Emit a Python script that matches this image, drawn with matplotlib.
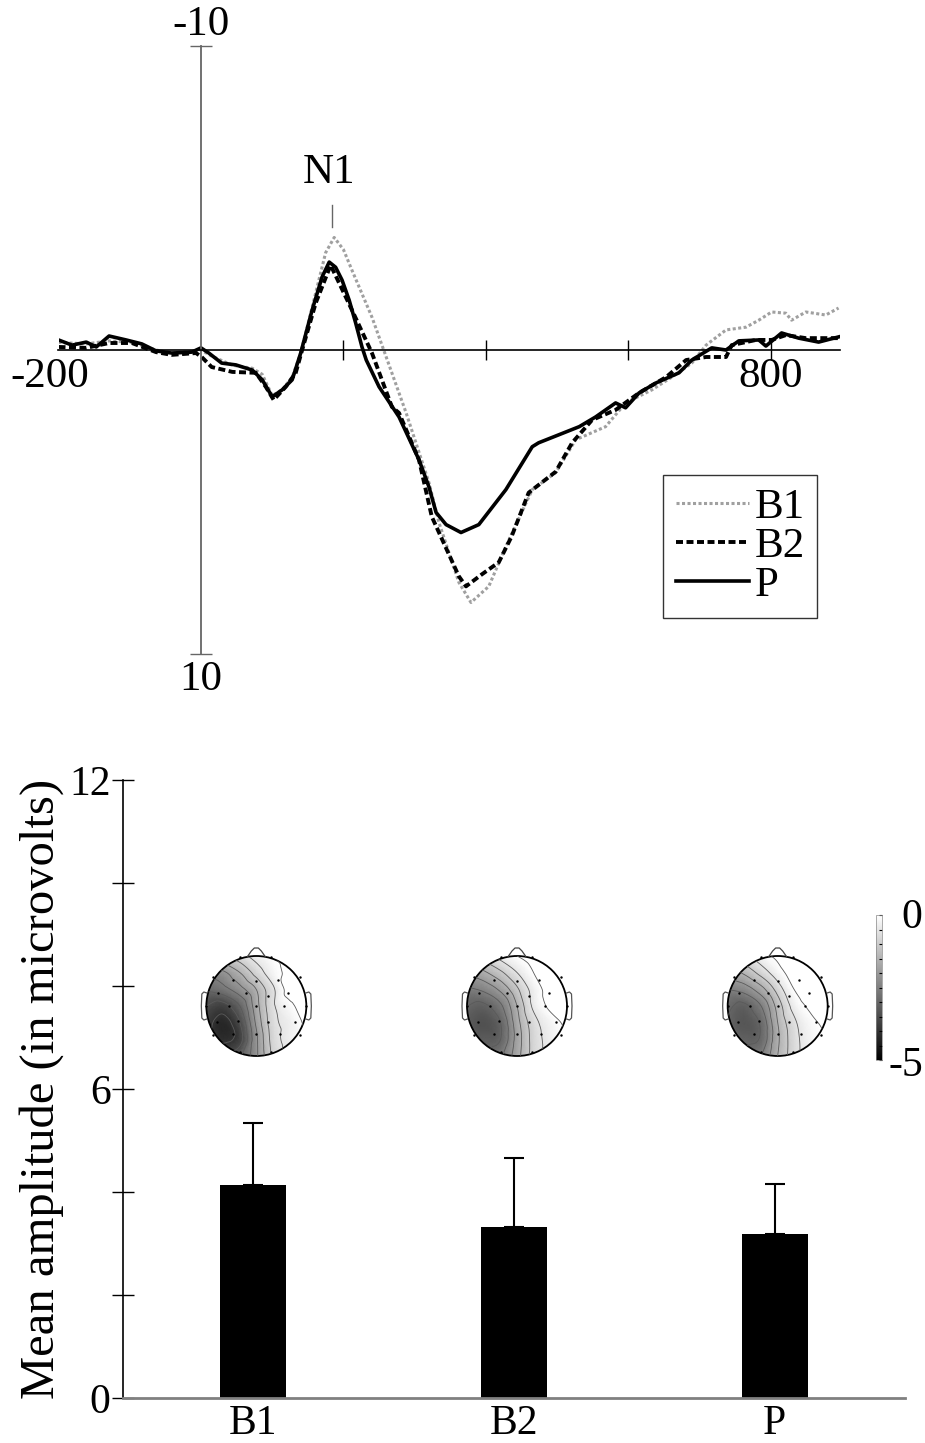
import numpy as np
import matplotlib
matplotlib.use('Agg')
import matplotlib.pyplot as plt
import matplotlib.tri as mtri
from matplotlib.patches import Circle
from matplotlib.cm import ScalarMappable
from matplotlib.colors import Normalize

plt.rcParams['font.family'] = ['Liberation Serif', 'DejaVu Serif']

# ERP WAVEFORMS - time (ms) and amplitude (microvolts, negative plotted up)
t_b1 = [-200, -161, -129, -97, -63, -41, -13, 0, 15, 44, 72, 86, 100, 114, 128, 140,
        156, 175, 187, 200, 212, 240, 260, 288, 320, 334, 362, 379, 404, 428, 465, 498,
        526, 568, 596, 633, 661, 689, 709, 737, 765, 783, 801, 821, 829, 849, 877, 895]
v_b1 = [-0.25, -0.2, -0.3, -0.25, 0.0, 0.1, 0.05, 0.0, 0.2, 0.5, 0.6, 0.8, 1.5, 1.3, 0.9, 0.1,
        -1.4, -3.2, -3.7, -3.3, -2.62, -1.08, 0.23, 2.07, 4.36, 5.67, 7.64, 8.3, 7.77, 6.46, 4.59, 4.03,
        2.95, 2.52, 1.74, 1.31, 0.89, 0.43, -0.16, -0.66, -0.75, -0.98, -1.25, -1.21, -0.98, -1.25, -1.15, -1.38]

t_b2 = [-200, -161, -129, -97, -63, -41, -7, 1, 15, 44, 77, 91, 102, 119, 133, 142,
        161, 182, 212, 240, 268, 278, 306, 324, 362, 372, 394, 418, 436, 460, 498, 521,
        549, 582, 615, 653, 681, 709, 737, 745, 779, 801, 821, 849, 895]
v_b2 = [-0.1, -0.07, -0.23, -0.23, 0.07, 0.16, 0.1, 0.23, 0.56, 0.72, 0.75, 1.21, 1.64, 1.21, 0.75, 0.0,
        -1.54, -2.79, -1.31, 0.1, 1.87, 2.07, 3.61, 5.48, 7.44, 7.77, 7.38, 6.98, 6.13, 4.69, 4.0, 3.05,
        2.3, 1.97, 1.41, 0.89, 0.33, 0.23, 0.23, -0.16, -0.33, -0.33, -0.49, -0.39, -0.39]

t_p = [-200, -181, -161, -147, -129, -105, -83, -63, -41, -13, 0, 11, 29, 49, 72, 86,
       100, 114, 128, 140, 156, 170, 180, 189, 198, 208, 217, 226, 232, 250, 278, 306,
       320, 330, 344, 365, 390, 428, 465, 474, 502, 531, 554, 582, 596, 615, 639, 671,
       689, 717, 737, 755, 783, 793, 815, 839, 867, 895]
v_p = [-0.33, -0.16, -0.26, -0.1, -0.46, -0.33, -0.2, 0.03, 0.1, 0.07, -0.07, 0.1, 0.43, 0.49, 0.66, 0.98,
       1.54, 1.31, 0.98, 0.1, -1.31, -2.4, -2.89, -2.72, -2.3, -1.64, -0.9, -0.1, 0.33, 1.21, 2.2, 3.61,
       4.5, 5.34, 5.74, 6.0, 5.74, 4.59, 3.18, 3.05, 2.79, 2.52, 2.2, 1.74, 1.9, 1.41, 1.08, 0.75,
       0.33, -0.07, 0.0, -0.3, -0.33, -0.13, -0.56, -0.39, -0.26, -0.43]

# MEAN AMPLITUDES
conditions = ['B1', 'B2', 'P']
mean_amp = [4.14, 3.32, 3.18]
amp_err = [1.20, 1.34, 0.98]

# SCALP MAPS - 7x7 grid, rows from front (top) to back, columns left to right
grid_pos = [-1, -0.67, -0.33, 0, 0.33, 0.67, 1]
topo_b1 = [[-1.1, -1.0, -0.7, -0.3, 0.0, 0.1, 0.2],
           [-2.2, -2.1, -1.5, -0.8, -0.2, 0.1, 0.2],
           [-2.9, -2.7, -2.2, -1.5, -0.6, 0.2, 0.3],
           [-3.5, -3.7, -3.0, -1.7, -0.6, -0.1, 0.2],
           [-3.8, -4.2, -3.5, -1.9, -0.7, -0.3, 0.1],
           [-3.7, -4.1, -3.7, -2.1, -0.8, -0.3, 0.0],
           [-3.2, -3.5, -3.1, -2.1, -0.9, -0.4, -0.1]]
topo_b2 = [[-0.9, -0.7, -0.3, 0.0, 0.2, 0.2, 0.2],
           [-2.0, -1.6, -1.1, -0.5, 0.0, 0.3, 0.3],
           [-2.6, -2.4, -1.9, -1.1, -0.3, 0.2, 0.3],
           [-3.0, -3.1, -2.6, -1.5, -0.4, 0.1, 0.3],
           [-3.2, -3.4, -3.0, -1.7, -0.7, -0.2, 0.1],
           [-3.0, -3.2, -3.0, -1.8, -0.8, -0.3, 0.0],
           [-2.6, -2.9, -2.6, -1.7, -0.8, -0.3, -0.1]]
topo_p = [[-0.9, -0.6, -0.2, 0.1, 0.3, 0.3, 0.3],
          [-1.8, -1.4, -0.8, -0.2, 0.2, 0.4, 0.4],
          [-2.5, -2.3, -1.7, -0.8, 0.0, 0.3, 0.4],
          [-2.9, -3.1, -2.5, -1.3, -0.3, 0.1, 0.3],
          [-3.0, -3.3, -2.9, -1.5, -0.6, -0.1, 0.1],
          [-2.8, -3.1, -2.9, -1.6, -0.7, -0.2, 0.0],
          [-2.5, -2.8, -2.5, -1.5, -0.7, -0.2, -0.1]]
topo_maps = [topo_b1, topo_b2, topo_p]

elec_x = [-0.33, 0.3, -0.87, -0.47, 0, 0.43, 0.87, -0.77, -0.2, 0.23, 0.63,
          -1.0, -0.55, 0, 0.55, 1.0, -0.79, -0.37, 0.23, 0.77, -0.47, 0, 0.47,
          -0.87, 0.87, -0.33, 0.3]
elec_y = [0.98, 0.98, 0.58, 0.53, 0.5, 0.53, 0.58, 0.27, 0.27, 0.21, 0.27,
          0, 0, 0, 0, 0, -0.31, -0.29, -0.31, -0.31, -0.55, -0.55, -0.55,
          -0.58, -0.58, -0.92, -0.92]

W, H = 925, 1443
fig = plt.figure(figsize=(W / 100, H / 100), dpi=100)


def px_box(x0, y0, x1, y1):
    return [x0 / W, 1 - y1 / H, (x1 - x0) / W, (y1 - y0) / H]


# TOP PANEL - waveforms
ax = fig.add_axes(px_box(58.5, 30.6, 840, 669.4))
ax.set_xlim(-200, 897)
ax.set_ylim(10.5, -10.5)
for s in ['top', 'right']:
    ax.spines[s].set_visible(False)
ax.spines['left'].set_position(('data', 0))
ax.spines['left'].set_bounds(-10, 10)
ax.spines['left'].set_color('#666666')
ax.spines['left'].set_linewidth(1.3)
ax.spines['bottom'].set_position(('data', 0))
ax.spines['bottom'].set_bounds(-200, 897)
ax.spines['bottom'].set_linewidth(1.2)
ax.set_xticks([200, 400, 600, 800])
ax.set_xticklabels([])
ax.tick_params(axis='x', direction='inout', length=15, width=1)
ax.set_yticks([-10, 10])
ax.set_yticklabels([])
ax.tick_params(axis='y', direction='inout', length=16, width=1, color='#666666')

ax.plot(t_b1, v_b1, color='#a0a0a0', lw=2.2, ls=(0, (1, 0.8)), label='B1')
ax.plot(t_b2, v_b2, color='black', lw=2.8, ls=(0, (1.8, 0.9)), label='B2')
ax.plot(t_p, v_p, color='black', lw=2.6, label='P')

ax.text(0, -10.68, '-10', fontsize=31, ha='center', va='center')
ax.text(0, 10.85, '10', fontsize=31, ha='center', va='center')
ax.text(-212, 0.89, '-200', fontsize=31, ha='center', va='center')
ax.text(800, 0.89, '800', fontsize=31, ha='center', va='center')
ax.text(180, -5.82, 'N1', fontsize=31, ha='center', va='center')
ax.plot([184, 184], [-4.77, -4.04], color='#666666', lw=1)

leg = ax.legend(loc='upper left', bbox_to_anchor=(663 / W, 1 - 475 / H),
                bbox_transform=fig.transFigure, frameon=True, fancybox=False,
                edgecolor='black', fontsize=31, handlelength=1.7, handletextpad=0.12,
                labelspacing=0.0, borderpad=0.3, borderaxespad=0)
leg.get_frame().set_linewidth(1.0)

# BOTTOM PANEL - bar chart
ax2 = fig.add_axes(px_box(123, 780, 905, 1398))
xpos = np.arange(len(conditions)) + 0.5
ax2.bar(xpos, mean_amp, width=0.253, color='black')
ax2.errorbar(xpos, mean_amp, yerr=[np.zeros(len(amp_err)), amp_err], fmt='none',
             ecolor='black', elinewidth=1.5, capsize=7.2, capthick=1.5)
ax2.set_xlim(0, 3)
ax2.set_ylim(0, 12)
for s in ['top', 'right']:
    ax2.spines[s].set_visible(False)
ax2.spines['left'].set_linewidth(1.2)
ax2.spines['bottom'].set_color('#808080')
ax2.spines['bottom'].set_linewidth(2)
ax2.set_yticks(range(0, 13, 2))
ax2.set_yticklabels(['0', '', '', '6', '', '', '12'], fontsize=30)
ax2.tick_params(axis='y', direction='inout', length=16, width=1, pad=1)
ax2.set_xticks(xpos)
ax2.set_xticklabels(conditions, fontsize=30)
ax2.tick_params(axis='x', length=0, pad=5)
ax2.set_ylabel('Mean amplitude (in microvolts)', fontsize=35)
ax2.yaxis.set_label_coords(-0.075, 0.5)

# scalp maps
gx, gy = np.meshgrid(grid_pos, grid_pos[::-1])
tri = mtri.Triangulation(gx.ravel(), gy.ravel())
refiner = mtri.UniformTriRefiner(tri)
levels = np.arange(-4.5, 1.01, 0.5)
for i, topo in enumerate(topo_maps):
    cx = 123 + xpos[i] * (905 - 123) / 3 + 3
    cy = 1006
    axh = fig.add_axes(px_box(cx - 70, cy - 70, cx + 70, cy + 70))
    axh.set_xlim(-1.4, 1.4)
    axh.set_ylim(-1.4, 1.4)
    axh.axis('off')
    z = np.array(topo).ravel()
    interp = mtri.CubicTriInterpolator(tri, z, kind='geom')
    tri_r, z_r = refiner.refine_field(z, triinterpolator=interp, subdiv=4)
    clip = Circle((0, 0), 1.0, transform=axh.transData)
    pc = axh.tripcolor(tri_r, z_r, cmap='gray', vmin=-5, vmax=0, shading='gouraud')
    pc.set_clip_path(clip)
    cs = axh.tricontour(tri_r, z_r, levels=levels, colors='#5a5a5a', linewidths=0.6,
                        linestyles='solid')
    cs.set_clip_path(clip)
    axh.add_patch(Circle((0, 0), 1.0, fill=False, lw=1.3, color='black'))
    axh.plot([-0.18, -0.1, -0.04, 0.04, 0.1, 0.18], [0.985, 1.1, 1.16, 1.16, 1.1, 0.985],
             color='#444444', lw=0.9)
    for sgn in [-1, 1]:
        axh.plot([sgn * 0.99, sgn * 1.05, sgn * 1.09, sgn * 1.1, sgn * 1.09, sgn * 1.05, sgn * 0.99],
                 [0.26, 0.28, 0.24, 0, -0.24, -0.28, -0.26], color='#555555', lw=0.9)
    axh.plot(elec_x, elec_y, 'k.', ms=1.5)

# colorbar
cax = fig.add_axes(px_box(876, 915, 882, 1060))
cb = fig.colorbar(ScalarMappable(norm=Normalize(-5, 0), cmap='gray'), cax=cax)
cb.set_ticks(np.arange(-5, 0.01, 0.5))
cb.ax.tick_params(length=2, width=0.8, direction='in', labelright=False)
cb.outline.set_linewidth(0.5)
cb.outline.set_edgecolor('#888888')
fig.text(912 / W, 1 - 918 / H, '0', fontsize=30, ha='center', va='center')
fig.text(906 / W, 1 - 1066 / H, '-5', fontsize=30, ha='center', va='center')

fig.savefig('out.png', dpi=100)
